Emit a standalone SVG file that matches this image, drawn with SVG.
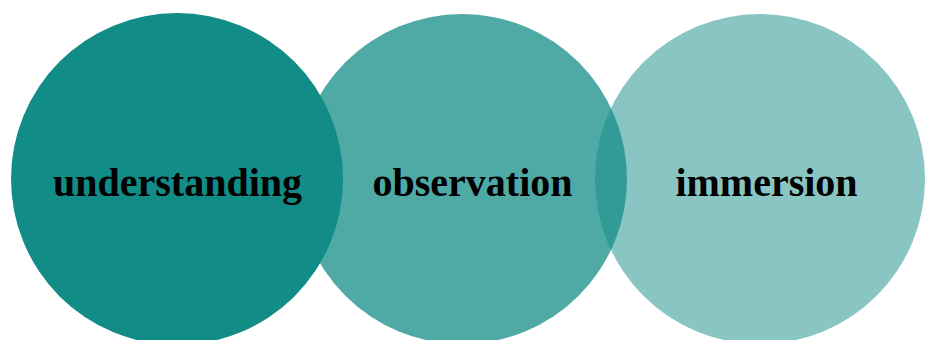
<svg xmlns="http://www.w3.org/2000/svg" width="925" height="340" viewBox="0 0 925 340">
<style>
.c{fill:#128c87}
.t{font-family:"Liberation Serif","DejaVu Serif",serif;font-weight:bold;font-size:40px;fill:#000;text-anchor:middle}
</style>
<rect width="925" height="340" fill="#fff"/>
<g id="observation">
<circle class="c" cx="462" cy="179" r="165" fill-opacity="0.74"/>
<text class="t" x="472.5" y="196">observation</text>
</g>
<g id="understanding">
<circle class="c" cx="177" cy="179" r="166"/>
<text class="t" x="177.5" y="196">understanding</text>
</g>
<g id="immersion">
<circle class="c" cx="760" cy="179" r="165" fill-opacity="0.5"/>
<text class="t" x="766.5" y="196">immersion</text>
</g>
<g id="connectors"/>
</svg>
